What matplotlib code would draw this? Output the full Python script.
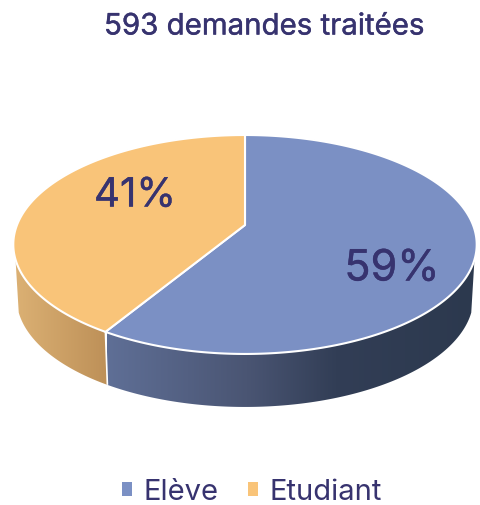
import numpy as np
import matplotlib
matplotlib.use("Agg")
import matplotlib.pyplot as plt
import matplotlib.patheffects as pe
from matplotlib.patches import Polygon, Patch
from matplotlib.colors import LinearSegmentedColormap

# Data
title = "593 demandes traitées"
categories = ["Elève", "Etudiant"]
counts = [348, 245]

TEXT = "#37336f"
TOP = ["#7b90c4", "#f9c479"]
plt.rcParams["font.family"] = ["Inter", "DejaVu Sans"]
BOLDER = [pe.withStroke(linewidth=0.3, foreground=TEXT)]

fig = plt.figure(figsize=(4.8, 5.05), dpi=100)
ax = fig.add_axes([0, 0, 1, 1])
ax.set_xlim(0, 480)
ax.set_ylim(505, 0)
ax.axis("off")

# Perspective view of a disc: apex, half-width, depth
CX, CY, A, B, K = 245.0, 225.0, 228.0, 106.0, 0.178
DEPTH, SHRINK = 53.0, 0.986


def rim(theta):
    u, v = np.sin(theta), np.cos(theta)
    w = 1 + K * v
    return CX + A * u / w, CY - B * v / w


def bottom(theta):
    x, y = rim(theta)
    return CX + (x - CX) * SHRINK, y + DEPTH


def side(t0, t1, stops, x0, x1):
    t = np.linspace(t0, t1, 200)
    xa, ya = rim(t)
    xb, yb = bottom(t[::-1])
    poly = Polygon(np.c_[np.r_[xa, xb], np.r_[ya, yb]], closed=True,
                   fc="none", ec="none", transform=ax.transData)
    ax.add_patch(poly)
    cmap = LinearSegmentedColormap.from_list("s", stops)
    im = ax.imshow(np.linspace(0, 1, 256)[None, :], cmap=cmap, aspect="auto",
                   extent=(x0, x1, 420, 240), zorder=1, interpolation="bilinear")
    im.set_clip_path(poly)


total = sum(counts)
bounds = 2 * np.pi * np.cumsum([0] + counts) / total
split = bounds[1]
VIS0, VIS1 = np.radians(108), np.radians(252)

side(VIS0, split, [(0, "#5f6f96"), (0.38, "#4a5573"), (0.62, "#323e56"), (1, "#2c394e")], 107, 476)
side(split, VIS1, [(0, "#bd9058"), (1, "#dcb174")], 108, 14)
ax.set_xlim(0, 480)
ax.set_ylim(505, 0)

# Divider on the side wall
xs, ys = rim(split)
xe, ye = bottom(split)
ax.plot([xs, xe], [ys, ye], color="white", lw=1.2, zorder=2, solid_capstyle="butt")

# Top faces
for i, col in enumerate(TOP):
    t = np.linspace(bounds[i], bounds[i + 1], 300)
    x, y = rim(t)
    ax.add_patch(Polygon(np.c_[np.r_[CX, x], np.r_[CY, y]], closed=True, fc=col,
                         ec="white", lw=1.5, zorder=3, joinstyle="round"))

# Labels
pct = [f"{100 * c / total:.0f}%" for c in counts]
ax.text(392, 269, pct[0], color=TEXT, fontsize=31, ha="center", va="center", zorder=5, path_effects=BOLDER)
ax.text(135, 196, pct[1], color=TEXT, fontsize=29, ha="center", va="center", zorder=5, path_effects=BOLDER)

ax.text(264, 27, title, color=TEXT, fontsize=21.2, ha="center", va="center", path_effects=BOLDER)

handles = [Patch(fc=c, ec="none", label=l) for c, l in zip(TOP, categories)]
leg = fig.legend(handles=handles, loc="center", bbox_to_anchor=(252 / 480, 1 - 492 / 505), ncols=2,
                 frameon=False, fontsize=21, labelcolor=TEXT, handlelength=0.343, handleheight=0.343,
                 handletextpad=0.41, columnspacing=1.0)

fig.savefig("out.png", dpi=100)
